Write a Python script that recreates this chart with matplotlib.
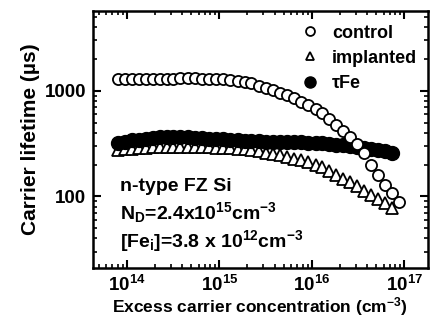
import matplotlib
matplotlib.use('Agg')
import matplotlib.pyplot as plt
from matplotlib.ticker import LogLocator, NullFormatter

plt.rcParams['font.family'] = ['Liberation Sans', 'DejaVu Sans']
plt.rcParams['font.weight'] = 'bold'
plt.rcParams['axes.labelweight'] = 'bold'
plt.rcParams['mathtext.fontset'] = 'custom'
plt.rcParams['mathtext.rm'] = 'Liberation Sans:bold'
plt.rcParams['mathtext.it'] = 'Liberation Sans:italic:bold'
plt.rcParams['mathtext.bf'] = 'Liberation Sans:bold'

# excess carrier concentration (cm^-3)
dn = [8.0e13, 9.5e13, 1.13e14, 1.35e14, 1.6e14, 1.9e14, 2.3e14, 2.7e14, 3.2e14, 3.8e14,
      4.6e14, 5.5e14, 6.5e14, 7.8e14, 9.3e14, 1.1e15, 1.3e15, 1.6e15, 1.9e15, 2.2e15,
      2.7e15, 3.2e15, 3.8e15, 4.5e15, 5.4e15, 6.4e15, 7.7e15, 9.2e15, 1.1e16, 1.3e16,
      1.55e16, 1.85e16, 2.2e16, 2.6e16, 3.1e16, 3.7e16, 4.4e16, 5.2e16, 6.2e16, 7.4e16,
      8.7e16]

# lifetimes (us)
control = [1300, 1290, 1290, 1290, 1300, 1300, 1300, 1300, 1300, 1310,
           1310, 1310, 1300, 1300, 1290, 1280, 1260, 1230, 1200, 1180,
           1120, 1060, 1010, 960, 910, 860, 790, 730, 670, 610,
           540, 475, 420, 365, 315, 255, 200, 160, 128, 108,
           88]
implanted = [275, 280, 283, 287, 290, 292, 294, 295, 296, 296,
             295, 294, 293, 291, 289, 287, 284, 281, 278, 275,
             267, 259, 252, 245, 236, 228, 219, 210, 199, 188,
             174, 160, 146, 136, 124, 113, 104, 94, 86, 77]
tau_fe = [320, 330, 338, 345, 352, 358, 362, 365, 366, 365,
          362, 358, 355, 352, 350, 347, 344, 340, 336, 333,
          332, 330, 329, 328, 327, 326, 325, 323, 320, 317,
          313, 309, 305, 300, 296, 290, 283, 276, 268, 260]

fig = plt.figure(figsize=(4.3, 3.22), dpi=100)
ax = fig.add_axes([0.216, 0.168, 0.779, 0.798])

ax.plot(dn[:len(implanted)], implanted, '^', ms=8, mfc='white', mec='black', mew=1.3,
        label='implanted', zorder=2)
ax.plot(dn[:len(tau_fe)], tau_fe, 'o', ms=10, mfc='black', mec='black',
        label='τFe', zorder=3)
ax.plot(dn, control, 'o', ms=8, mfc='white', mec='black', mew=1.3,
        label='control', zorder=4)

ax.set_xscale('log')
ax.set_yscale('log')
ax.set_xlim(4.3e13, 1.8e17)
ax.set_ylim(21, 5700)

ax.set_yticks([100, 1000])
ax.set_yticklabels(['100', '1000'])
ax.yaxis.set_minor_locator(LogLocator(base=10, subs=range(2, 10)))
ax.yaxis.set_minor_formatter(NullFormatter())
ax.xaxis.set_minor_locator(LogLocator(base=10, subs=range(2, 10)))
ax.xaxis.set_minor_formatter(NullFormatter())

ax.tick_params(which='both', direction='in', top=True, right=True, labelsize=13.5)
ax.tick_params(which='major', length=6, width=1.5, pad=5)
ax.tick_params(which='minor', length=3, width=1.2)
for s in ax.spines.values():
    s.set_linewidth(1.8)

ax.set_xlabel('Excess carrier concentration (cm$^{-3}$)', fontsize=12.5, labelpad=0)
ax.set_ylabel('Carrier lifetime (µs)', fontsize=15, labelpad=3)

h, l = ax.get_legend_handles_labels()
order = [2, 0, 1]
ax.legend([h[i] for i in order], [l[i] for i in order], loc='upper right',
          frameon=False, fontsize=13, handletextpad=0.5, borderaxespad=0.0,
          labelspacing=0.45, markerscale=0.8, handlelength=1.4,
          bbox_to_anchor=(0.99, 0.975))

ax.text(0.08, 0.298, 'n-type FZ Si', transform=ax.transAxes, fontsize=14)
ax.text(0.08, 0.19, 'N$_{\\rm D}$=2.4x10$^{15}$cm$^{-3}$', transform=ax.transAxes, fontsize=14)
ax.text(0.08, 0.08, '[Fe$_{\\rm i}$]=3.8 x 10$^{12}$cm$^{-3}$', transform=ax.transAxes, fontsize=14)

fig.savefig('out.png', dpi=100)
